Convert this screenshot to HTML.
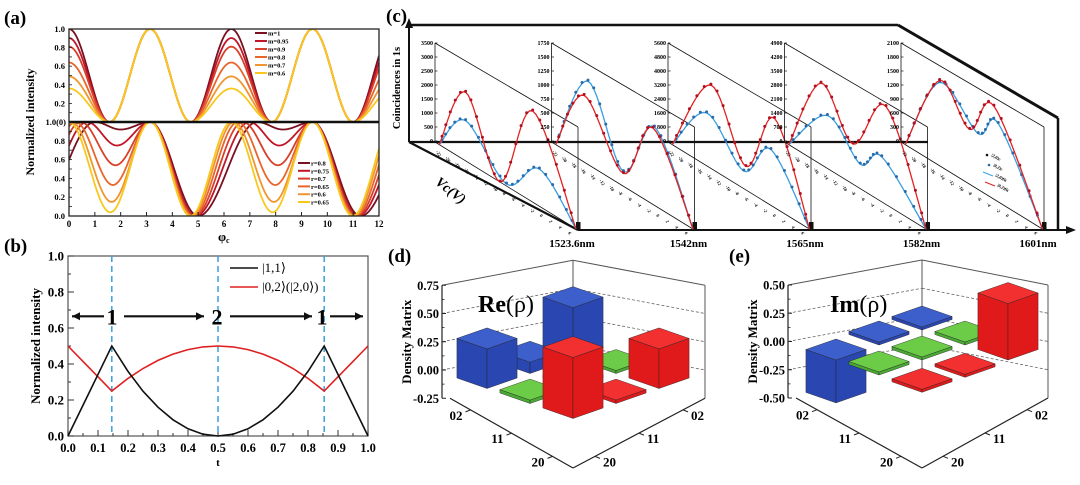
<!DOCTYPE html>
<html><head><meta charset="utf-8"><style>
html,body{margin:0;padding:0;background:#fff;}
svg{display:block;font-family:"Liberation Serif",serif;}
</style></head><body>
<svg id="fig" width="1080" height="485" viewBox="0 0 1080 485" xmlns="http://www.w3.org/2000/svg">
<defs><clipPath id="clipA"><rect x="69" y="29" width="310" height="187"/></clipPath></defs>
</svg>
<script>
// ---------- DATA ----------
// panel a (top): m parameters
const mVals=[1,0.95,0.9,0.8,0.7,0.6];
const mLabels=["m=1","m=0.95","m=0.9","m=0.8","m=0.7","m=0.6"];
// panel a (bottom): keypoints per r
const rLabels=["r=0.8","r=0.75","r=0.7","r=0.65","r=0.6","r=0.65"];
const rPeak1=[1.0,0.7,0.45,0.25,0.1,0.0];
const rMinPos=[2.0,1.85,1.8,1.7,1.65,1.6];
const rMinVal=[0.92,0.75,0.54,0.33,0.15,0.04];
const rZero=[5.0,4.9,4.85,4.8,4.75,4.7];
const aColors=["#7a1020","#c0162a","#d8402a","#e8662c","#f0962e","#f8c81e"];
const aXTicks=[0,1,2,3,4,5,6,7,8,9,10,11,12];
// panel b
const tB=[0,0.05,0.1,0.146,0.2,0.25,0.3,0.35,0.4,0.45,0.5,0.55,0.6,0.65,0.7,0.75,0.8,0.854,0.9,0.95,1];
const blackB=[0,0.171,0.342,0.5,0.359,0.249,0.16,0.09,0.04,0.01,0,0.01,0.04,0.09,0.16,0.249,0.359,0.5,0.342,0.171,0];
const redB=[0.5,0.414,0.329,0.25,0.32,0.375,0.42,0.455,0.48,0.495,0.5,0.495,0.48,0.455,0.42,0.375,0.32,0.25,0.329,0.414,0.5];
const bDashT=[0.146,0.5,0.854];
// panel c
const cWaves=["1523.6nm","1542nm","1565nm","1582nm","1601nm"];
const cYTicks=[[3500,3000,2500,2000,1500,1000,500,0],[1750,1500,1250,1000,750,500,250,0],[5600,4800,4000,3200,2400,1600,800,0],[4900,4200,3500,2800,2100,1400,700,0],[2100,1800,1500,1200,900,600,300,0]];
const cXTicks=["-22","-20","-18","-16","-14","-12","-10","-8","-6","-4","-2","0","2","4","6"];
const cRedU=[[0.03,0.214,0.455,0.683,0.986],[0.03,0.228,0.503,0.71,0.99],[0.03,0.30,0.545,0.745,0.99],[0.03,0.255,0.48,0.71,0.99],[0.03,0.27,0.48,0.65,0.99]];
const cRedV=[[0,0.70,0,0.93,0],[0,0.68,0.13,0.78,0],[0,0.85,0.24,0.91,0],[0,0.83,0.41,1.0,0],[0,0.87,0.56,0.95,0]];
const cBlueU=[[0.03,0.214,0.50,0.73,0.986],[0.03,0.255,0.503,0.72,0.99],[0.03,0.27,0.53,0.72,0.99],[0.03,0.30,0.53,0.68,0.99],[0.03,0.27,0.54,0.68,0.99]];
const cBlueV=[[0,0.41,0.02,0.38,0],[0,0.85,0.15,0.80,0],[0,0.54,0.18,0.57,0],[0,0.54,0.25,0.46,0],[0,0.85,0.57,0.80,0]];
// panels d,e: 3x3 matrices, rows/cols 02,11,20
const basisLabels=["02","11","20"];
const reRho=[[0.45,0.10,0.35],[0.02,0.02,0.03],[0.35,0.03,0.54]];
const imRho=[[0.02,0.02,-0.38],[0.02,0.02,0.02],[0.50,-0.02,-0.02]];
const deZTicksRe=[0.75,0.50,0.25,0.00,-0.25];
const deZTicksIm=[0.50,0.25,0.00,-0.25,-0.50];

// ---------- HELPERS ----------
const NS="http://www.w3.org/2000/svg";
const svg=document.getElementById('fig');
function E(tag,a,p){const e=document.createElementNS(NS,tag);for(const k in a)e.setAttribute(k,a[k]);(p||svg).appendChild(e);return e;}
function T(x,y,s,a,p){const e=E('text',Object.assign({x:x,y:y},a||{}),p);e.textContent=s;return e;}
function G(name){const g=E('g',{});return g;}
function pathD(pts){return pts.map((p,i)=>(i?'L':'M')+p[0].toFixed(2)+' '+p[1].toFixed(2)).join('');}
function cr(pts,n){const out=[];for(let i=0;i<pts.length-1;i++){const p0=pts[Math.max(0,i-1)],p1=pts[i],p2=pts[i+1],p3=pts[Math.min(pts.length-1,i+2)];for(let k=0;k<n;k++){const t=k/n,t2=t*t,t3=t2*t;out.push([0,1].map(j=>0.5*((2*p1[j])+(-p0[j]+p2[j])*t+(2*p0[j]-5*p1[j]+4*p2[j]-p3[j])*t2+(-p0[j]+3*p1[j]-3*p2[j]+p3[j])*t3)));}}out.push(pts[pts.length-1]);return out;}

// ---------- PANEL A ----------
const gA=G('panel-a');
const xA=v=>69+v/12*310, yAT=v=>122-v*93, yAB=v=>216-v*94;
let e;
e=T(4,24,'(a)',{'font-size':19,'font-weight':'bold'},gA);


const cA=E('g',{'clip-path':'url(#clipA)'},gA);
mVals.forEach((m,k)=>{const pts=[];for(let f=0;f<=12;f+=0.03){const c=Math.cos(f);pts.push([xA(f),yAT(c*c*(c>0?m*m:1))]);}
 const p=E('path',{d:pathD(pts),fill:'none',stroke:aColors[k],'stroke-width':1.8},cA);
 
 });
function rFunc(k,f){const P=Math.PI*2;let z=rZero[k];let g=f;while(g>z)g-=P;while(g<z-P)g+=P;
 const kp=[[z-P,0],[rPeak1[k],1],[rMinPos[k],rMinVal[k]],[Math.PI,1],[z,0]];
 for(let i=0;i<kp.length-1;i++){if(g>=kp[i][0]&&g<=kp[i+1][0]){const t=(g-kp[i][0])/(kp[i+1][0]-kp[i][0]);const s=(1-Math.cos(Math.PI*t))/2;return kp[i][1]+(kp[i+1][1]-kp[i][1])*s;}}return 0;}
rLabels.forEach((r,k)=>{const pts=[];for(let f=0;f<=12;f+=0.03){pts.push([xA(f),yAB(rFunc(k,f))]);}
 const p=E('path',{d:pathD(pts),fill:'none',stroke:aColors[k],'stroke-width':1.8},cA);
 
 });
e=E('rect',{x:69,y:29,width:310,height:187,fill:'none',stroke:'#222','stroke-width':1.3},gA);


e=E('line',{x1:69,y1:122,x2:379,y2:122,stroke:'#111','stroke-width':2.6},gA);


aXTicks.forEach(v=>{e=E('line',{x1:xA(v),y1:216,x2:xA(v),y2:212,stroke:'#222','stroke-width':1},gA);
 
 
 e=T(xA(v),227,String(v),{'font-size':9,'font-weight':'bold','text-anchor':'middle'},gA);
 
 });
[1.0,0.8,0.6,0.4,0.2].forEach(v=>{e=T(65,yAT(v)+3,v.toFixed(1),{'font-size':8.5,'font-weight':'bold','text-anchor':'end'},gA);
 
 });
[0.8,0.6,0.4,0.2,0.0].forEach(v=>{e=T(65,yAB(v)+3,v.toFixed(1),{'font-size':8.5,'font-weight':'bold','text-anchor':'end'},gA);
 
 });
for(let v=0;v<=1.0001;v+=0.1){[yAT(v),yAB(v)].forEach(y=>{e=E('line',{x1:69,y1:y,x2:72,y2:y,stroke:'#222','stroke-width':0.8},gA);
 
 });}
e=T(66,125,'1.0(0)',{'font-size':8.5,'font-weight':'bold','text-anchor':'end'},gA);


e=T(0,0,'Normalized intensity',{'font-size':12,'font-weight':'bold','text-anchor':'middle',transform:'translate(34,122) rotate(-90)'},gA);


e=T(218,241,'φ',{'font-size':13,'font-weight':'bold'},gA);


e=T(226,243,'c',{'font-size':8,'font-weight':'bold'},gA);


mLabels.forEach((s,k)=>{const y=33+k*8;e=E('line',{x1:255,y1:y,x2:267,y2:y,stroke:aColors[k],'stroke-width':2},gA);
 
 
 e=T(268,y+2.5,s,{'font-size':6.5,'font-weight':'bold'},gA);
 
 });
rLabels.forEach((s,k)=>{const y=163+k*7.8;e=E('line',{x1:298,y1:y,x2:310,y2:y,stroke:aColors[k],'stroke-width':2},gA);
 
 
 e=T(311,y+2.5,s,{'font-size':6.5,'font-weight':'bold'},gA);
 
 });

// ---------- PANEL B ----------
const gB=G('panel-b');
const xB=t=>68+t*300, yB=v=>436-v*180;
e=T(4,252,'(b)',{'font-size':19,'font-weight':'bold'},gB);


e=E('rect',{x:68,y:256,width:300,height:180,fill:'none',stroke:'#555','stroke-width':1.2},gB);


for(let i=0;i<=20;i++){const t=i/20;e=E('line',{x1:xB(t),y1:436,x2:xB(t),y2:i%2?433:430,stroke:'#333','stroke-width':1},gB);
 
 }
for(let i=0;i<=10;i++){const v=i/10;e=E('line',{x1:68,y1:yB(v),x2:i%2?71:74,y2:yB(v),stroke:'#333','stroke-width':1},gB);
 
 }
for(let i=0;i<=10;i++){e=T(xB(i/10),452,(i/10).toFixed(1),{'font-size':12.5,'font-weight':'bold','text-anchor':'middle'},gB);
 
 }
for(let i=0;i<=5;i++){e=T(64,yB(i/5)+4.5,(i/5).toFixed(1),{'font-size':13,'font-weight':'bold','text-anchor':'end'},gB);
 
 }
e=T(218,466,'t',{'font-size':11,'font-weight':'bold','text-anchor':'middle'},gB);


e=T(0,0,'Normalized intensity',{'font-size':13,'font-weight':'bold','text-anchor':'middle',transform:'translate(40,346) rotate(-90)'},gB);


bDashT.forEach(t=>{e=E('line',{x1:xB(t),y1:256,x2:xB(t),y2:436,stroke:'#3aa0e0','stroke-width':1.5,'stroke-dasharray':'6,4'},gB);
 
 });
e=E('path',{d:pathD(tB.map((t,i)=>[xB(t),yB(redB[i])])),fill:'none',stroke:'#e02020','stroke-width':1.6},gB);


e=E('path',{d:pathD(tB.map((t,i)=>[xB(t),yB(blackB[i])])),fill:'none',stroke:'#111','stroke-width':1.6},gB);


const yArr=yB(0.665);
function arrow(x1,x2,name){e=E('line',{x1:x1,y1:yArr,x2:x2,y2:yArr,stroke:'#111','stroke-width':2.2},gB);
 
 
 const d=x2>x1?1:-1;e=E('polygon',{points:`${x2},${yArr} ${x2-d*8},${yArr-4} ${x2-d*8},${yArr+4}`,fill:'#111'},gB);
 
 }
arrow(104,72,'arrow-left-1');arrow(124,204,'arrow-left-2');arrow(230,312,'arrow-right-2');arrow(330,363,'arrow-right-1');
[[112,'1'],[217,'2'],[322,'1']].forEach(a=>{e=T(a[0],yArr+8,a[1],{'font-size':22,'font-weight':'bold','text-anchor':'middle'},gB);
 
 });
e=E('line',{x1:230,y1:268,x2:258,y2:268,stroke:'#111','stroke-width':1.6},gB);


e=T(262,272,'|1,1⟩',{'font-size':13},gB);


e=E('line',{x1:230,y1:287,x2:258,y2:287,stroke:'#e02020','stroke-width':1.6},gB);


e=T(262,291,'|0,2⟩(|2,0⟩)',{'font-size':13},gB);



// ---------- PANEL C ----------
const gC=G('panel-c');
e=T(386,22,'(c)',{'font-size':19,'font-weight':'bold'},gC);


function L(x1,y1,x2,y2,w,name,extra){e=E('line',Object.assign({x1:x1,y1:y1,x2:x2,y2:y2,stroke:'#111','stroke-width':w},extra||{}),gC);
 
 return e;}
L(409,25,898,25,2.5,'c-frame-top');
L(898,25,1058,118,3,'c-frame-diagonal');
L(1058,118,1058,229,2.5,'c-frame-right');
L(409,142,409,27,2,'c-y-axis');
e=E('polygon',{points:'409,18 405,28 413,28',fill:'#111'},gC);


L(409,142,928,142,2.2,'c-baseline');
L(409,142,578,230,2.2,'c-depth-axis');
L(578,230,1068,230,2,'c-bottom-axis');
e=E('polygon',{points:'1076,230 1066,226 1066,234',fill:'#111'},gC);


e=T(0,0,'Coincidences in 1s',{'font-size':10.5,'font-weight':'bold','text-anchor':'middle',transform:'translate(400,88) rotate(-90)'},gC);


e=T(0,0,'Vc(V)',{'font-size':14,'font-weight':'bold','font-style':'italic','text-anchor':'middle',transform:'translate(448,194) rotate(38)'},gC);


const cx0=i=>435+116.5*i;
const cP=(i,u,v)=>[cx0(i)+143*u,142+88*u-v*98];
cWaves.forEach((w,i)=>{const ax=cx0(i);
 L(ax,43,ax,142,0.8,'c-sub-y-axis');
 L(ax,43,ax+143,127,0.8,'c-sub-top-diagonal');
 L(ax+143,127,ax+143,230,0.8,'c-sub-vertical');
 L(ax,142,ax+143,230,0.8,'c-sub-x-axis');
 e=E('rect',{x:ax+141,y:222,width:4.5,height:8,fill:'#111'},gC);
 
 
 e=T(ax+137,247,w,{'font-size':11,'font-weight':'bold','text-anchor':'middle'},gC);
 
 
 cYTicks[i].forEach((v,k)=>{const y=43+k*14;
  L(ax,y,ax+2.5,y,0.7,'c-sub-y-tick');
  e=T(ax-2,y+2,String(v),{'font-size':6,'font-weight':'bold','text-anchor':'end'},gC);
  
  });
 cXTicks.forEach((s,k)=>{const u=0.04+k*0.066;const p=cP(i,u,0);
  e=T(0,0,s,{'font-size':4.5,'font-weight':'bold',transform:`translate(${p[0]-5},${p[1]+6}) rotate(60)`},gC);
  
  });
 [[cBlueU,cBlueV,'#3a9ee0','#2a6aa8','blue'],[cRedU,cRedV,'#e42222','#b01020','red']].forEach(sr=>{
  const pts=sr[0][i].map((u,k)=>cP(i,u,sr[1][i][k]));const sm=cr(pts,12);
  e=E('path',{d:pathD(sm),fill:'none',stroke:sr[2],'stroke-width':1.3},gC);
  
  
  for(let k=2;k<sm.length-1;k+=2){e=E('circle',{cx:sm[k][0],cy:sm[k][1]-1,r:1.5,fill:sr[3]},gC);
   
   }
 });
});
[['2,0)c','#111',0],['0,2)c','#2a6aa8',1],['2,0)fit','#3a9ee0',2],['0,2)fit','#e42222',3]].forEach((l,k)=>{const x=987+k*2,y=155+k*10;
 if(k<2){e=E('circle',{cx:x,cy:y,r:1.3,fill:l[1]},gC);}else{e=E('line',{x1:x-8,y1:y-3,x2:x+2,y2:y+1,stroke:l[1],'stroke-width':1},gC);}
 
 
 e=T(0,0,'|'+l[0],{'font-size':4.5,'font-weight':'bold',transform:`translate(${x+4},${y+1}) rotate(30)`},gC);
 
 });

// ---------- PANELS D, E ----------
function bar3d(cfg){
 const g=G(cfg.name);
 const Z=113;
 e=T(cfg.lx,cfg.ly,cfg.label,{'font-size':19,'font-weight':'bold'},g);
 
 
 const L=cfg.left,B=cfg.back,R=cfg.right;
 function ln(x1,y1,x2,y2,st,w,da,name){e=E('line',{x1:x1,y1:y1,x2:x2,y2:y2,stroke:st,'stroke-width':w,'stroke-dasharray':da||'none'},g);
  
  }
 const yL=z=>cfg.zeroL-z*Z, yBk=z=>cfg.zeroL-25-z*Z;
 ln(L,yL(cfg.zmax),B,yBk(cfg.zmax),'#555',1,null,'wall-top-left');
 ln(B,yBk(cfg.zmax),R,yL(cfg.zmax),'#555',1,null,'wall-top-right');
 ln(B,yBk(cfg.zmax),B,yBk(cfg.zmin),'#555',1,null,'wall-back-edge');
 ln(R,yL(cfg.zmax),R,yL(cfg.zmin),'#555',1,null,'wall-right-edge');
 cfg.zticks.slice(1,4).forEach(z=>{ln(L,yL(z),B,yBk(z),'#666',0.8,'3,2','grid-left');ln(B,yBk(z),R,yL(z),'#666',0.8,'3,2','grid-right');});
 ln(L,yL(cfg.zmax),L,yL(cfg.zmin),'#222',1.2,null,'z-axis');
 ln(L+8,yL(cfg.zmin),B,cfg.front,'#222',1.2,null,'row-axis');
 ln(R,yL(cfg.zmin),B,cfg.front,'#222',1.2,null,'col-axis');
 cfg.zticks.forEach(z=>{ln(L,yL(z),L+4,yL(z),'#222',1,null,'z-tick');
  e=T(L-3,yL(z)+4.5,z.toFixed(2),{'font-size':12.5,'font-weight':'bold','text-anchor':'end'},g);
  
  });
 for(let k=1;k<8;k+=2){const z=cfg.zmin+k*0.125;ln(L,yL(z),L+2.5,yL(z),'#222',0.8,null,'z-minor-tick');}
 e=T(0,0,'Density Matrix',{'font-size':13,'font-weight':'bold','text-anchor':'middle',transform:`translate(${L-31},${yL((cfg.zmax+cfg.zmin)/2)}) rotate(-90)`},g);
 
 
 basisLabels.forEach((s,k)=>{
  const t=(k+0.5)/3;const lx=(L+8)+(B-L-8)*t,ly=yL(cfg.zmin)+(cfg.front-yL(cfg.zmin))*t;
  ln(lx,ly,lx-5,ly+2,'#222',1,null,'row-tick');
  e=T(lx-8,ly+10,s,{'font-size':13,'font-weight':'bold','text-anchor':'end'},g);
  
  
  const rx=R+(B-R)*t,ry=yL(cfg.zmin)+(cfg.front-yL(cfg.zmin))*t;
  ln(rx,ry,rx+5,ry+2,'#222',1,null,'col-tick');
  e=T(rx+8,ry+10,s,{'font-size':13,'font-weight':'bold'},g);
  
  });
 const tt=T(cfg.tx,cfg.ty,'',{'font-size':24},g);
 const t1=E('tspan',{'font-weight':'bold'},tt);t1.textContent=cfg.title;
 const t2=E('tspan',{},tt);t2.textContent='(ρ)';
 
 
 const U=[43,15],V=[-43,15],a=0.35;
 const cols=[['#3d5fcc','#2a46b0'],['#6ccc48','#4aa834'],['#f23030','#e01a1a']];
 const order=[];for(let i=0;i<3;i++)for(let j=0;j<3;j++)order.push([i,j]);
 order.sort((p,q)=>(p[0]+p[1])-(q[0]+q[1]));
 order.forEach(([i,j])=>{const v=cfg.data[i][j];
  const c=[B+i*U[0]+j*V[0],cfg.zeroL-25+12+i*U[1]+j*V[1]+ (cfg.shift||0)];
  let z1=Math.max(v,0),z0=Math.min(v,0);if((z1-z0)*Z<3){z1=z0+3/Z;}
  const P=(su,sv,z)=>[c[0]+su*a*U[0]+sv*a*V[0],c[1]+su*a*U[1]+sv*a*V[1]-z*Z];
  const poly=(pts,fill,nm)=>{e=E('polygon',{points:pts.map(p=>p[0].toFixed(1)+','+p[1].toFixed(1)).join(' '),fill:fill,stroke:'#222','stroke-width':0.4,'stroke-linejoin':'round'},g);
   
   };
  const nm='bar-'+basisLabels[i]+'-'+basisLabels[j];
  poly([P(-1,1,z0),P(1,1,z0),P(1,1,z1),P(-1,1,z1)],cols[i][1],nm+'-left-face');
  poly([P(1,1,z0),P(1,-1,z0),P(1,-1,z1),P(1,1,z1)],cols[i][1],nm+'-right-face');
  poly([P(-1,-1,z1),P(1,-1,z1),P(1,1,z1),P(-1,1,z1)],cols[i][0],nm+'-top-face');
 });
}
bar3d({name:'panel-d',label:'(d)',lx:388,ly:262,left:442,back:573,right:705,front:468,zeroL:370,zmax:0.75,zmin:-0.25,zticks:deZTicksRe,data:reRho,title:'Re',tx:478,ty:312,shift:-9});
bar3d({name:'panel-e',label:'(e)',lx:729,ly:262,left:788,back:922,right:1048,front:468,zeroL:341.5,zmax:0.5,zmin:-0.5,zticks:deZTicksIm,data:imRho,title:'Im',tx:830,ty:312,shift:-9});
</script>
</body></html>
